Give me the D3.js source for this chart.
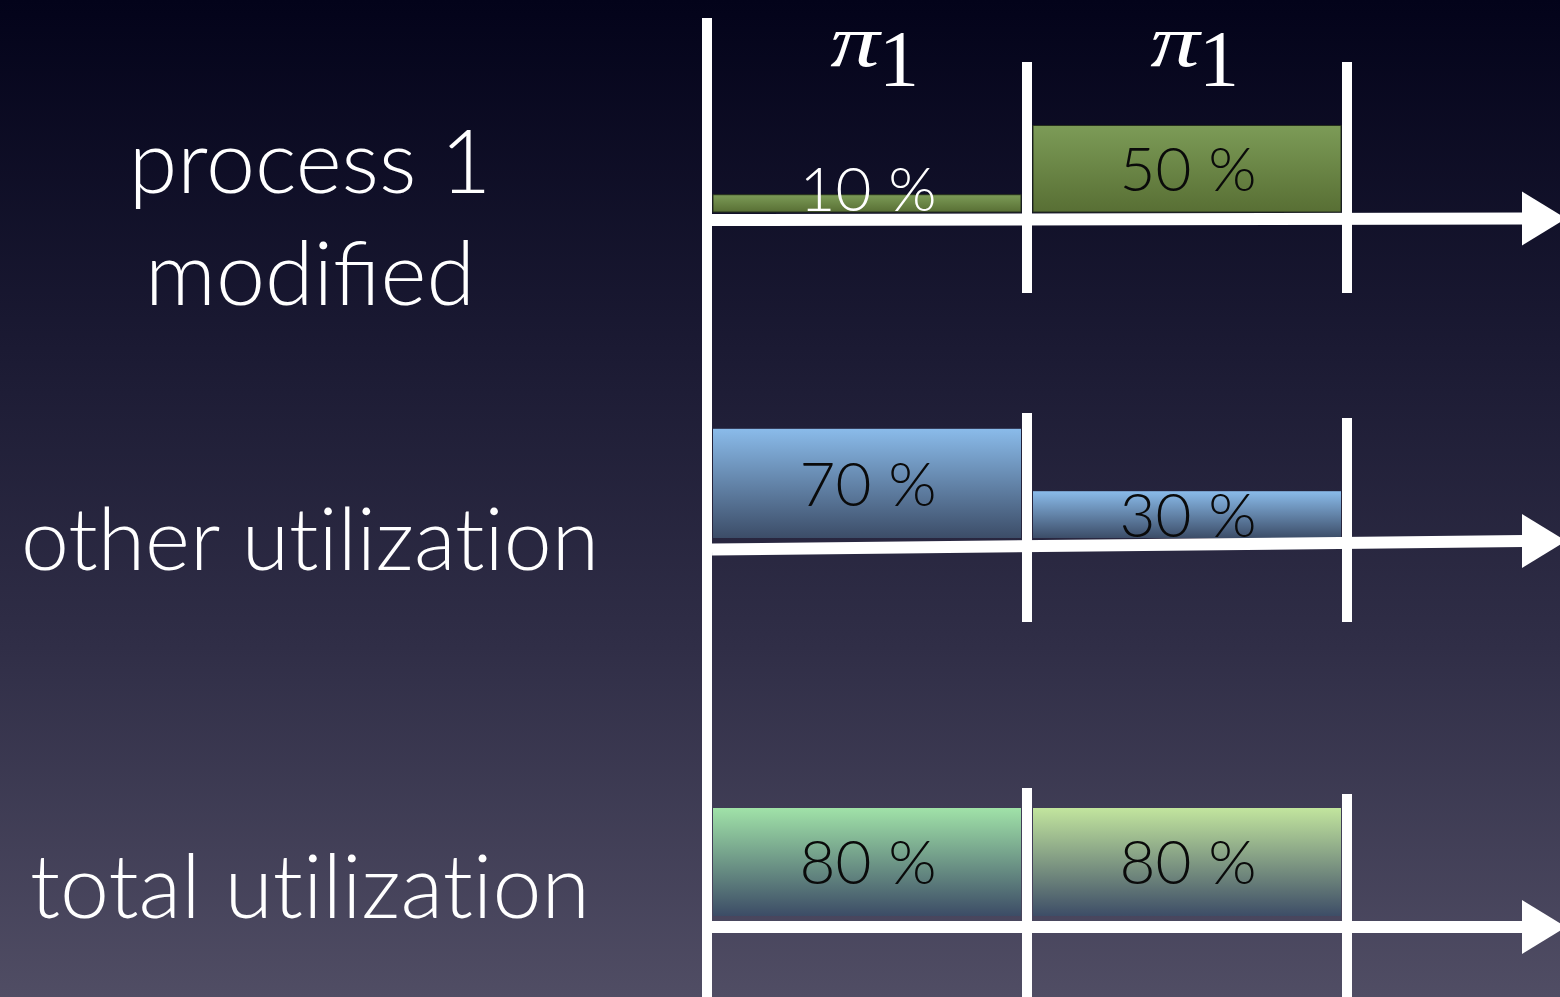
<!DOCTYPE html>
<html>
<head>
<meta charset="utf-8">
<script src="https://cdn.jsdelivr.net/npm/d3@7"></script>
<style>
  html, body { margin: 0; padding: 0; background: #04041a; }
  svg { display: block; }
</style>
</head>
<body>
<svg id="chart" width="1560" height="997"></svg>
<script>
// Utilization per time slot (percent), one array per row
const slotNames = ["π", "π"];
const slotSub = ["1", "1"];
const processShare = [10, 50];
const otherShare = [70, 30];
const totalShare = [80, 80];
const rowTitles = [["process 1", "modified"], ["other utilization"], ["total utilization"]];

const W = 1560, H = 997;
const svg = d3.select("#chart");
const defs = svg.append("defs");

// background: dark navy fading to a grey violet
const bg = defs.append("linearGradient").attr("id", "bg").attr("x1", 0).attr("y1", 0).attr("x2", 0).attr("y2", 1);
[["0%", "#03031a"], ["35%", "#1b1a33"], ["65%", "#302e47"], ["100%", "#504d64"]]
  .forEach(([o, c]) => bg.append("stop").attr("offset", o).attr("stop-color", c));
svg.append("rect").attr("width", W).attr("height", H).attr("fill", "url(#bg)");

// bar fills, light at the top, darker at the base
const fills = {
  olive: ["#7c9b57", "#586f34"],
  blue: ["#8abbea", "#3c4d68"],
  mint: ["#a0e2a8", "#3c4c66"],
  lime: ["#c2e59e", "#3d4d67"]
};
Object.entries(fills).forEach(([k, [top, bot]]) => {
  const g = defs.append("linearGradient").attr("id", "g-" + k).attr("x1", 0).attr("y1", 0).attr("x2", 0).attr("y2", 1);
  g.append("stop").attr("offset", "0%").attr("stop-color", top);
  g.append("stop").attr("offset", "100%").attr("stop-color", bot);
});

// time axis shared by all rows: two slots between the dividers
const xSlot = d3.scaleLinear().domain([0, 2]).range([707, 1347]);

const rows = [
  { values: processShare, base: 212, full: 173, axisL: 220, axisR: 218.5, divTop: [62, 62], divBot: 293,
    fill: ["olive", "olive"], stroke: "#26301c", titleY: [193, 305] },
  { values: otherShare, base: 538, full: 156, axisL: 549.5, axisR: 541, divTop: [413, 418], divBot: 622,
    fill: ["blue", "blue"], stroke: "none", titleY: [570] },
  { values: totalShare, base: 916, full: 135, axisL: 927, axisR: 927, divTop: [788, 794], divBot: 997,
    fill: ["mint", "lime"], stroke: "none", titleY: [918] }
];

const labelFont = "Lato, 'Open Sans', 'DejaVu Sans', sans-serif";
const serifFont = "'Liberation Serif', 'DejaVu Serif', serif";
const valueSize = 62;
const lineW = 10;
const headStart = 1522, headTip = 1566, headHalf = 27;

rows.forEach((row, r) => {
  const y = d3.scaleLinear().domain([0, 100]).range([row.base, row.base - row.full]);
  const g = svg.append("g");
  const thin = d => y(0) - y(d) < 30;

  // bars
  g.selectAll("rect.bar").data(row.values).join("rect")
    .attr("class", "bar")
    .attr("x", (d, i) => xSlot(i) + 6)
    .attr("width", (d, i) => xSlot(i + 1) - xSlot(i) - 12)
    .attr("y", d => y(d))
    .attr("height", d => y(0) - y(d))
    .attr("fill", (d, i) => `url(#g-${row.fill[i]})`)
    .attr("stroke", row.stroke)
    .attr("stroke-width", 1);

  // value labels, centred in the bar; a very thin bar holds its label on its base
  g.selectAll("text.val").data(row.values).join("text")
    .attr("class", "val")
    .attr("x", (d, i) => xSlot(i + 0.5) + 1)
    .attr("y", d => thin(d) ? y(0) - 1 : (y(d) + y(0)) / 2 + valueSize * 0.36)
    .attr("text-anchor", "middle")
    .attr("font-family", labelFont)
    .attr("font-weight", 300)
    .attr("font-size", valueSize)
    .attr("fill", d => thin(d) ? "#ffffff" : "#0a0a0a")
    .text(d => d + " %");

  // slot dividers
  g.selectAll("line.div").data([1, 2]).join("line")
    .attr("class", "div")
    .attr("x1", d => xSlot(d)).attr("x2", d => xSlot(d))
    .attr("y1", (d, i) => row.divTop[i]).attr("y2", row.divBot)
    .attr("stroke", "#ffffff").attr("stroke-width", lineW);

  // time arrow
  g.append("line")
    .attr("x1", xSlot(0) + 5).attr("y1", row.axisL)
    .attr("x2", headStart + 2).attr("y2", row.axisR)
    .attr("stroke", "#ffffff").attr("stroke-width", 12);
  g.append("path")
    .attr("d", d3.line()([[headStart, row.axisR - headHalf], [headTip, row.axisR], [headStart, row.axisR + headHalf]]) + "Z")
    .attr("fill", "#ffffff");

  // row title
  const t = svg.append("g");
  rowTitles[r].forEach((s, k) => {
    t.append("text")
      .attr("x", 310).attr("y", row.titleY[k])
      .attr("text-anchor", "middle")
      .attr("font-family", labelFont)
      .attr("font-weight", 300)
      .attr("font-size", r === 1 ? 86 : 88)
      .style("font-feature-settings", s.includes("ti") ? "'liga' 0" : "normal")
      .attr("fill", "#ffffff")
      .text(s);
  });
});

// main vertical axis
svg.append("line")
  .attr("x1", xSlot(0)).attr("x2", xSlot(0))
  .attr("y1", 18).attr("y2", H)
  .attr("stroke", "#ffffff").attr("stroke-width", lineW);

// slot names above the first row: a wide italic pi with a subscript 1
const slots = svg.selectAll("g.slot").data(slotNames).join("g")
  .attr("class", "slot")
  .attr("transform", (d, i) => `translate(${xSlot(i + 0.5)},0)`);
slots.append("text")
  .attr("transform", "translate(-12,66) scale(1.35,1)")
  .attr("text-anchor", "middle")
  .attr("font-family", serifFont)
  .attr("font-style", "italic")
  .attr("font-size", 73)
  .attr("fill", "#ffffff")
  .text(d => d);
slots.append("text")
  .attr("x", 12)
  .attr("y", 86)
  .attr("font-family", serifFont)
  .attr("font-size", 80)
  .attr("fill", "#ffffff")
  .text((d, i) => slotSub[i]);
</script>
</body>
</html>
